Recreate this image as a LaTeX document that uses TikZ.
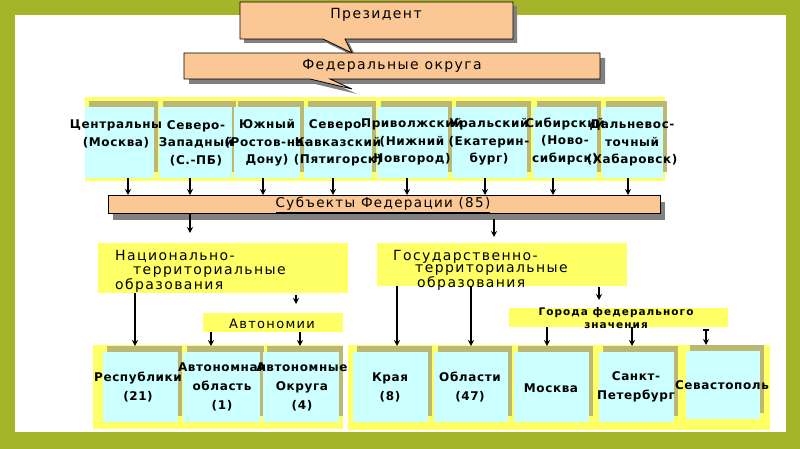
\documentclass[tikz,border=0pt]{standalone}
\usepackage{fontspec}
\setmainfont{DejaVu Sans}
\newfontfamily\dvs[LetterSpace=5]{DejaVu Sans}
\newfontfamily\dvw[LetterSpace=10]{DejaVu Sans}
\usetikzlibrary{arrows.meta}
\definecolor{frame}{HTML}{A6B42A}
\definecolor{peach}{HTML}{FBC795}
\definecolor{yel}{HTML}{FFFF66}
\definecolor{cy}{HTML}{CCFFFF}
\definecolor{kh}{HTML}{BDB774}
\definecolor{shd}{HTML}{808080}
\newcommand\mkcell[5]{%
  \pgfmathsetmacro\cwid{#4-#2}%
  \pgfmathsetmacro\chgt{#5-#3}%
  \node[kcell,minimum width=\cwid pt,minimum height=\chgt pt] (#1k) at (#2+4,#3-6) {};%
  \node[ccell,minimum width=\cwid pt,minimum height=\chgt pt] (#1) at (#2,#3) {};%
}
\newcommand\topfont{\dvs\bfseries\fontsize{12}{17.5}\selectfont}
\newcommand\botfont{\dvs\bfseries\fontsize{12}{19}\selectfont}
\newcommand\lblfont{\dvw\fontsize{14}{14.5}\selectfont}
\begin{document}
\begin{tikzpicture}[x=1pt,y=-1pt,
  kcell/.style={rectangle,fill=kh,inner sep=0,anchor=north west},
  ccell/.style={rectangle,fill=cy,inner sep=0,anchor=north west},
  band/.style={rectangle,fill=yel,inner sep=0,anchor=north west},
  ttext/.style={align=center,inner sep=0,font=\topfont},
  btext/.style={align=center,inner sep=0,font=\botfont},
  ltext/.style={inner sep=0,font=\lblfont},
  arr/.style={line width=1.5pt,-{Stealth[length=6pt,width=6pt]}},
  callout/.style={fill=peach,draw=black,line width=0.8pt},
]
\useasboundingbox (0,0) rectangle (800,449);
\fill[frame] (0,0) rectangle (800,449);
\fill[white] (15,15) rectangle (786,432);

% President callout
\fill[shd] (244,6) -- (517,6) -- (517,43) -- (349,43) -- (356,57) -- (327,43) -- (244,43) -- cycle;
\path[callout] (240,2) -- (513,2) -- (513,39) -- (345,39) -- (352,53) -- (323,39) -- (240,39) -- cycle;
\node[ltext] (pres) at (376,15) {Президент};

% Federal districts callout
\fill[shd] (189,58) -- (605,58) -- (605,84) -- (335,84) -- (357,94) -- (315,84) -- (189,84) -- cycle;
\path[callout] (184,53) -- (600,53) -- (600,79) -- (330,79) -- (352,89) -- (310,79) -- (184,79) -- cycle;
\node[ltext] (fed) at (392,66) {Федеральные округа};

% districts
\node[band,minimum width=580pt,minimum height=84pt] (dband) at (85,97) {};
\mkcell{d1}{85}{107}{154}{178}
\mkcell{d2}{159}{107}{232}{178}
\mkcell{d3}{234}{107}{300}{178}
\mkcell{d4}{304}{107}{372}{178}
\mkcell{d5}{377}{107}{448}{178}
\mkcell{d6}{452}{107}{527}{178}
\mkcell{d7}{533}{107}{597}{178}
\mkcell{d8}{602}{107}{663}{178}
\node[ttext] (t1) at (116,134) {Центральны\\(Москва)};
\node[ttext] (t2) at (196,143) {Северо-\\Западный\\(С.-ПБ)};
\node[ttext] (t3) at (267,143) {Южный\\(Ростов-на-\\Дону)};
\node[ttext] (t4) at (338,143) {Северо-\\Кавказский\\(Пятигорск)};
\node[ttext] (t5) at (412,142) {Приволжский\\(Нижний\\Новгород)};
\node[ttext] (t6) at (489,142) {Уральский\\(Екатерин-\\бург)};
\node[ttext] (t7) at (565,141) {Сибирский\\(Ново-\\сибирск)};
\node[ttext] (t8) at (632,143) {Дальневос-\\точный\\(Хабаровск)};

% subjects bar
\fill[shd] (113,202) rectangle (665,220);
\node[callout,rectangle,inner sep=0,anchor=north west,minimum width=552pt,minimum height=18pt] (subj) at (108,195) {};
\node[ltext,font=\dvw\fontsize{13.5}{15}\selectfont] (subjt) at (383,205) {\underline{Субъекты Федерации (85)}};

% middle boxes
\node[band,minimum width=250pt,minimum height=50pt] (natl) at (98,243) {};
\node[ltext,align=left,anchor=west] (natlt) at (115,271) {Национально-\\\hspace*{18pt}территориальные\\образования};
\node[band,minimum width=250pt,minimum height=43pt] (gos) at (377,243) {};
\node[ltext,align=left,anchor=west,font=\dvw\fontsize{14}{12.5}\selectfont] (gost) at (393,270) {Государственно-\\\hspace*{22pt}территориальные\\\hspace*{24pt}образования};
\node[band,minimum width=140pt,minimum height=19pt] (avt) at (203,313) {};
\node[ltext,font=\dvw\fontsize{13}{15}\selectfont] (avtt) at (272,324) {Автономии};
\node[band,minimum width=219pt,minimum height=19pt] (gor) at (509,308) {};
\node[align=center,inner sep=0,font=\dvw\bfseries\fontsize{10.5}{13}\selectfont] (gort) at (616,318.5) {Города федерального\\значения};

% bottom row
\node[band,minimum width=250pt,minimum height=84pt] (bandL) at (93,345) {};
\node[band,minimum width=422pt,minimum height=85pt] (bandR) at (348,345) {};
\mkcell{b1}{103}{352}{178}{422}
\mkcell{b2}{183}{352}{260}{422}
\mkcell{b3}{263}{352}{339}{422}
\mkcell{b4}{353}{352}{428}{422}
\mkcell{b5}{434}{352}{508}{422}
\mkcell{b6}{514}{352}{589}{422}
\mkcell{b7}{599}{352}{674}{422}
\mkcell{b8}{686}{351}{760}{419}
\node[btext] (u1) at (138,387) {Республики\\(21)};
\node[btext] (u2) at (222,387) {Автономная\\область\\(1)};
\node[btext] (u3) at (302,387) {Автономные\\Округа\\(4)};
\node[btext] (u4) at (390,387) {Края\\(8)};
\node[btext] (u5) at (470,387) {Области\\(47)};
\node[btext] (u6) at (551,388) {Москва};
\node[btext] (u7) at (636,387) {Санкт-\\Петербург};
\node[btext] (u8) at (722,385) {Севастополь};

% connectors
\foreach \c/\x in {d1/128,d2/190,d3/263,d4/333,d5/407,d6/485,d7/553,d8/628}{
  \coordinate (ax) at (\x,0);
  \draw[arr] (\c.south -| ax) -- (subj.north -| ax);
}
\coordinate (xa) at (190,0);
\draw[arr,shorten >=10pt] (subj.south -| xa) -- (natl.north -| xa);
\coordinate (xb) at (494,0);
\draw[arr,shorten <=5pt,shorten >=6pt] (subj.south -| xb) -- (gos.north -| xb);
\coordinate (xc) at (135,0);
\draw[arr] (natl.south -| xc) -- (b1k.north -| xc);
\coordinate (xd) at (296,0);
\draw[arr,shorten <=2pt,shorten >=9pt] (natl.south -| xd) -- (avt.north -| xd);
\coordinate (xe) at (211,0);
\draw[arr] (avt.south -| xe) -- (b2k.north -| xe);
\coordinate (xf) at (300,0);
\draw[arr] (avt.south -| xf) -- (b3k.north -| xf);
\coordinate (xg) at (397,0);
\draw[arr] (gos.south -| xg) -- (b4k.north -| xg);
\coordinate (xh) at (471,0);
\draw[arr] (gos.south -| xh) -- (b5k.north -| xh);
\coordinate (xi) at (599,0);
\draw[arr,shorten <=1pt,shorten >=8pt] (gos.south -| xi) -- (gor.north -| xi);
\coordinate (xj) at (547,0);
\draw[arr] (gor.south -| xj) -- (b6k.north -| xj);
\coordinate (xk) at (632,0);
\draw[arr] (gor.south -| xk) -- (b7k.north -| xk);
\coordinate (xl) at (706,0);
\draw[line width=1.5pt,{Bar[width=6pt]}-{Stealth[length=6pt,width=6pt]},shorten <=2pt] (gor.south -| xl) -- (b8k.north -| xl);
\end{tikzpicture}
\end{document}
